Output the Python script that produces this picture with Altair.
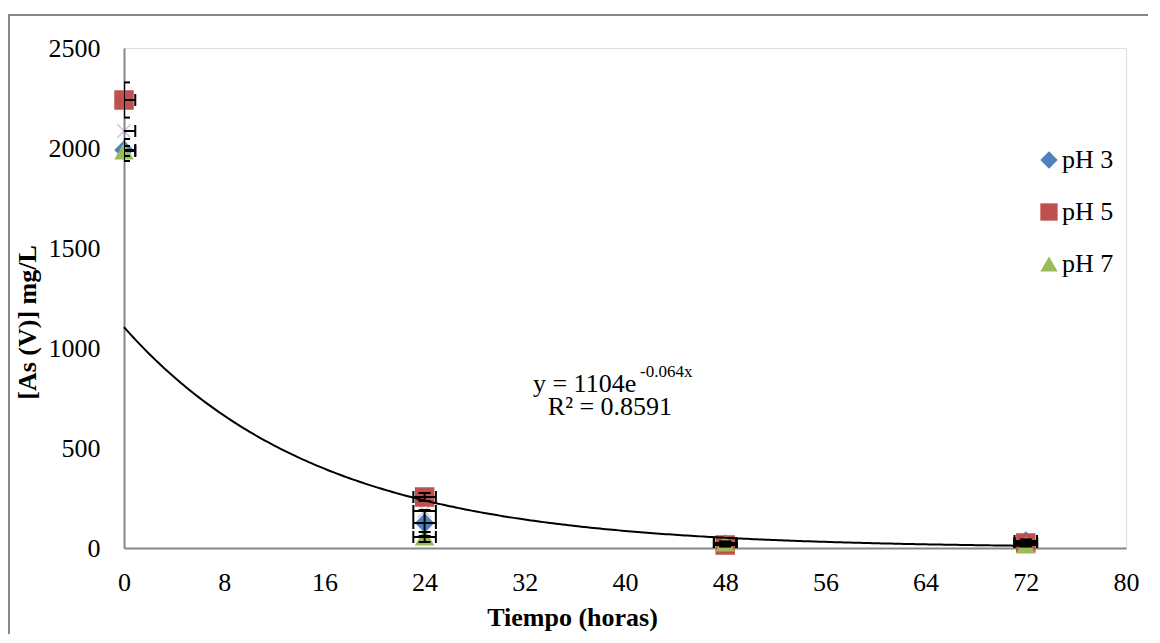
import altair as alt
import pandas as pd

# ---- data ----
times = [0, 24, 48, 72]
series = ["pH 3", "pH 5", "pH 7"]
ph3 = [1990, 125, 20, 35]
ph5 = [2240, 255, 15, 25]
ph7 = [1985, 55, 25, 15]
ph3_err = [55, 65, 8, 8]
ph5_err = [88, 20, 8, 8]
ph7_err = [25, 25, 8, 8]
time_err = 0.9
avg_vals = [2085, 185, 20, 25]
colors = ["#4F81BD", "#C0504D", "#9BBB59"]
shapes = ["diamond", "square", "triangle-up"]
fit_a = 1104
fit_k = -0.064
x_ticks = [0, 8, 16, 24, 32, 40, 48, 56, 64, 72, 80]
y_ticks = [0, 500, 1000, 1500, 2000, 2500]
eq_main = "y = 1104e"
eq_sup = "-0.064x"
eq_r2 = "R² = 0.8591"

FONT = "Times New Roman, Liberation Serif, DejaVu Serif, serif"
GRAY = "#868686"

rows = []
for name, vals, errs in zip(series, [ph3, ph5, ph7], [ph3_err, ph5_err, ph7_err]):
    for t, v, e in zip(times, vals, errs):
        rows.append(dict(series=name, t=t, v=v, lo=v - e, hi=v + e,
                         tlo=t - time_err, thi=t + time_err))
df = pd.DataFrame(rows)
avg_df = pd.DataFrame(dict(t=times, v=avg_vals,
                           tlo=[t - time_err for t in times],
                           thi=[t + time_err for t in times]))

xscale = alt.Scale(domain=[0, 80], nice=False, zero=False)
yscale = alt.Scale(domain=[0, 2500], nice=False)
xaxis = alt.Axis(values=x_ticks, grid=False, ticks=False, labelPadding=21,
                 format="d", labelFlush=False,
                 labelFont=FONT, labelFontSize=26, labelColor="black",
                 domainColor=GRAY, domainWidth=2,
                 title="Tiempo (horas)", titleFont=FONT, titleFontSize=26,
                 titleFontWeight="bold", titleColor="black",
                 titleX=448, titleY=77, titleBaseline="alphabetic",
                 titleAnchor="start", titleAlign="center")
yaxis = alt.Axis(values=y_ticks, grid=False, ticks=False, labelPadding=24,
                 format="d", labelFlush=False,
                 labelFont=FONT, labelFontSize=26, labelColor="black",
                 domainColor=GRAY, domainWidth=2,
                 title="[As (V)] mg/L", titleFont=FONT, titleFontSize=26,
                 titleFontWeight="bold", titleColor="black",
                 titleX=-89, titleY=274, titleAngle=-90, titleAlign="center",
                 titleBaseline="alphabetic", titleAnchor="start")


def X(f):
    return alt.X(f, type="quantitative", scale=xscale, axis=xaxis)


def Y(f):
    return alt.Y(f, type="quantitative", scale=yscale, axis=yaxis)


legend = alt.Legend(title=None, orient="none", legendX=912, legendY=99,
                    labelFont=FONT, labelFontSize=26, labelColor="black",
                    symbolSize=300, labelOffset=0, rowPadding=26, padding=0,
                    symbolStrokeWidth=0)

frame = alt.Chart(pd.DataFrame({"a": [0]})).mark_rect(
    filled=False, stroke=GRAY, strokeWidth=2
).encode(x=alt.value(-115), x2=alt.value(1300), y=alt.value(-33), y2=alt.value(800))

trend = alt.Chart(alt.sequence(0, 72.01, 0.25, as_="t")).transform_calculate(
    v=f"{fit_a}*exp({fit_k}*datum.t)"
).mark_line(color="black", strokeWidth=2).encode(x=X("t"), y=Y("v"))

points = alt.Chart(df).mark_point(filled=True, size=380, opacity=1).encode(
    x=X("t"), y=Y("v"),
    color=alt.Color("series:N", scale=alt.Scale(domain=series, range=colors), legend=legend),
    shape=alt.Shape("series:N", scale=alt.Scale(domain=series, range=shapes), legend=legend),
    order=alt.Order("series:N"),
)

avg_pts = alt.Chart(avg_df).mark_point(
    shape="M-1,-1L1,1M1,-1L-1,1", filled=False, size=180, color="#8064A2",
    opacity=0.35, strokeWidth=1.5
).encode(x=X("t"), y=Y("v"))

base = alt.Chart(df)
vrule = base.mark_rule(color="black", strokeWidth=2, clip=True).encode(
    x=X("t"), y=Y("lo"), y2="hi")
vcap_lo = base.mark_tick(orient="horizontal", size=12, thickness=2, color="black",
                         clip=True, opacity=1).encode(x=X("t"), y=Y("lo"))
vcap_hi = base.mark_tick(orient="horizontal", size=12, thickness=2, color="black",
                         clip=True, opacity=1).encode(x=X("t"), y=Y("hi"))
hrule = base.mark_rule(color="black", strokeWidth=2, clip=True).encode(
    x=X("tlo"), x2="thi", y=Y("v"))
hcap_lo = base.mark_tick(orient="vertical", size=12, thickness=2, color="black",
                         clip=True, opacity=1).encode(x=X("tlo"), y=Y("v"))
hcap_hi = base.mark_tick(orient="vertical", size=12, thickness=2, color="black",
                         clip=True, opacity=1).encode(x=X("thi"), y=Y("v"))

abase = alt.Chart(avg_df)
ahrule = abase.mark_rule(color="black", strokeWidth=2, clip=True).encode(
    x=X("tlo"), x2="thi", y=Y("v"))
ahcap_lo = abase.mark_tick(orient="vertical", size=12, thickness=2, color="black",
                           clip=True, opacity=1).encode(x=X("tlo"), y=Y("v"))
ahcap_hi = abase.mark_tick(orient="vertical", size=12, thickness=2, color="black",
                           clip=True, opacity=1).encode(x=X("thi"), y=Y("v"))

ann = pd.DataFrame(dict(t=[32.65], v=[780], txt=[eq_main]))
ann_sup = pd.DataFrame(dict(t=[41.2], v=[855], txt=[eq_sup]))
ann_r2 = pd.DataFrame(dict(t=[38.8], v=[665], txt=[eq_r2]))
t1 = alt.Chart(ann).mark_text(font=FONT, fontSize=26, align="left",
                              baseline="alphabetic", color="black").encode(
    x=X("t"), y=Y("v"), text="txt:N")
t2 = alt.Chart(ann_sup).mark_text(font=FONT, fontSize=17, align="left",
                                  baseline="alphabetic", color="black").encode(
    x=X("t"), y=Y("v"), text="txt:N")
t3 = alt.Chart(ann_r2).mark_text(font=FONT, fontSize=26, align="center",
                                 baseline="alphabetic", color="black").encode(
    x=X("t"), y=Y("v"), text="txt:N")

chart = alt.layer(
    frame, avg_pts, ahrule, ahcap_lo, ahcap_hi, points,
    vrule, vcap_lo, vcap_hi, hrule, hcap_lo, hcap_hi, trend, t1, t2, t3
).properties(
    width=1002, height=500,
    padding={"left": 116, "top": 40, "right": 22, "bottom": 86},
    autosize=alt.AutoSizeParams(type="none"),
).configure_view(stroke=None).configure(background="white")

chart.save("out.html", embed_options={"renderer": "svg", "actions": False})
